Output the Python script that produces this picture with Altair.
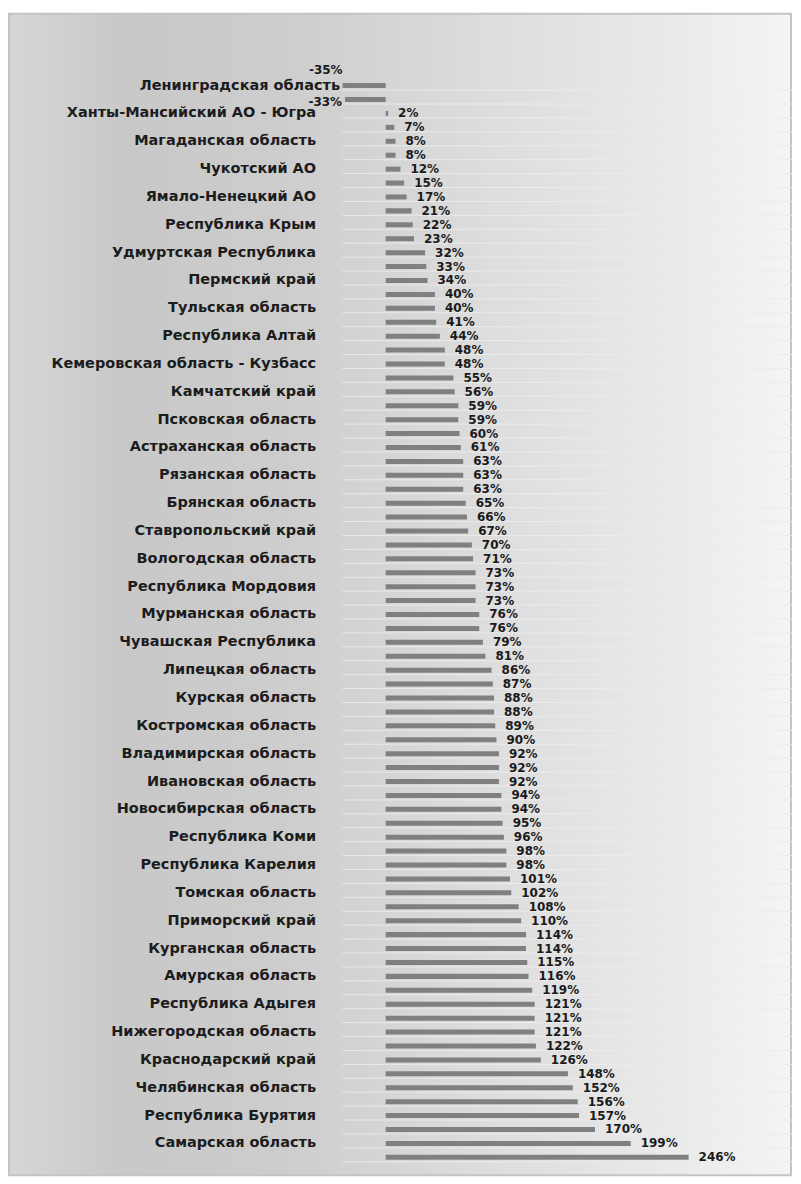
import json
import altair as alt
import pandas as pd

# Labelled regions (every other bar carries a label)
regions = [
    "Ленинградская область", "Ханты-Мансийский АО - Югра", "Магаданская область",
    "Чукотский АО", "Ямало-Ненецкий АО", "Республика Крым", "Удмуртская Республика",
    "Пермский край", "Тульская область", "Республика Алтай",
    "Кемеровская область - Кузбасс", "Камчатский край", "Псковская область",
    "Астраханская область", "Рязанская область", "Брянская область",
    "Ставропольский край", "Вологодская область", "Республика Мордовия",
    "Мурманская область", "Чувашская Республика", "Липецкая область",
    "Курская область", "Костромская область", "Владимирская область",
    "Ивановская область", "Новосибирская область", "Республика Коми",
    "Республика Карелия", "Томская область", "Приморский край",
    "Курганская область", "Амурская область", "Республика Адыгея",
    "Нижегородская область", "Краснодарский край", "Челябинская область",
    "Республика Бурятия", "Самарская область",
]

values = [
    -35, -33, 2, 7, 8, 8, 12, 15, 17, 21, 22, 23, 32, 33, 34, 40, 40, 41, 44, 48,
    48, 55, 56, 59, 59, 60, 61, 63, 63, 63, 65, 66, 67, 70, 71, 73, 73, 73, 76, 76,
    79, 81, 86, 87, 88, 88, 89, 90, 92, 92, 92, 94, 94, 95, 96, 98, 98, 101, 102,
    108, 110, 114, 114, 115, 116, 119, 121, 121, 121, 122, 126, 148, 152, 156, 157,
    170, 199, 246,
]

names_full = [regions[i // 2] if i % 2 == 0 and i // 2 < len(regions) else "" for i in range(len(values))]

df = pd.DataFrame({
    "idx": list(range(len(values))),
    "value": values,
    "label": [f"{v}%" for v in values],
})

W, H = 450, 1087

label_expr = json.dumps(names_full, ensure_ascii=False) + "[datum.value]"

y_enc = alt.Y(
    "idx:O",
    scale=alt.Scale(paddingInner=0.64, paddingOuter=0.32),
    axis=alt.Axis(
        title=None, ticks=False, domain=False, grid=False, zindex=2,
        labelExpr=label_expr,
        labelPadding={"condition": {"test": "datum.value == 0", "value": 3}, "value": 27},
        labelFontSize=14.5,
        labelFont="DejaVu Sans", labelFontWeight="bold", labelColor="#1c1c1c",
        labelLimit=400, minExtent=335, maxExtent=335,
    ),
)
x_enc = alt.X("value:Q", scale=alt.Scale(domain=[-35, 330]), axis=None)

gradient = alt.LinearGradient(
    gradient="linear",
    stops=[
        alt.GradientStop(offset=0.0, color="#d6d6d6"),
        alt.GradientStop(offset=0.15, color="#c8c8c8"),
        alt.GradientStop(offset=0.35, color="#cdcdcd"),
        alt.GradientStop(offset=0.6, color="#dcdcdc"),
        alt.GradientStop(offset=0.85, color="#eaeaea"),
        alt.GradientStop(offset=1.0, color="#f4f4f4"),
    ],
    x1=0, x2=1, y1=0, y2=0,
)

bg = alt.Chart(alt.Data(values=[{}])).mark_rect(
    color=gradient, stroke="#c4c4c4", strokeWidth=2
).encode(
    x=alt.value(-334), x2=alt.value(449), y=alt.value(-65), y2=alt.value(1098)
)

base = alt.Chart(df)

grid = base.mark_rule(color="#ececec", strokeWidth=1, opacity=0.9).encode(
    y=y_enc, yOffset=alt.value(7)
)

bars = base.mark_bar(color="#808080").encode(x=x_enc, y=y_enc)

txt_pos = base.transform_filter("datum.value >= 0").mark_text(
    align="left", baseline="middle", dx=10, fontSize=12, fontWeight="bold",
    font="DejaVu Sans", color="#1a1a1a",
).encode(x=x_enc, y=y_enc, text="label:N")

txt_neg1 = base.transform_filter("datum.idx == 0").mark_text(
    align="right", baseline="middle", dx=0, dy=-16, fontSize=12, fontWeight="bold",
    font="DejaVu Sans", color="#1a1a1a",
).encode(x=x_enc, y=y_enc, text="label:N")

txt_neg2 = base.transform_filter("datum.idx == 1").mark_text(
    align="right", baseline="middle", dx=-3, dy=2, fontSize=12, fontWeight="bold",
    font="DejaVu Sans", color="#1a1a1a",
).encode(x=x_enc, y=y_enc, text="label:N")

chart = alt.layer(bg, grid, bars, txt_pos, txt_neg1, txt_neg2).properties(
    width=W, height=H,
    padding={"left": 0, "top": 4, "right": 0, "bottom": 0},
    background="white",
).configure_view(stroke=None)

chart.save("out.html", embed_options={"renderer": "svg", "actions": False})
